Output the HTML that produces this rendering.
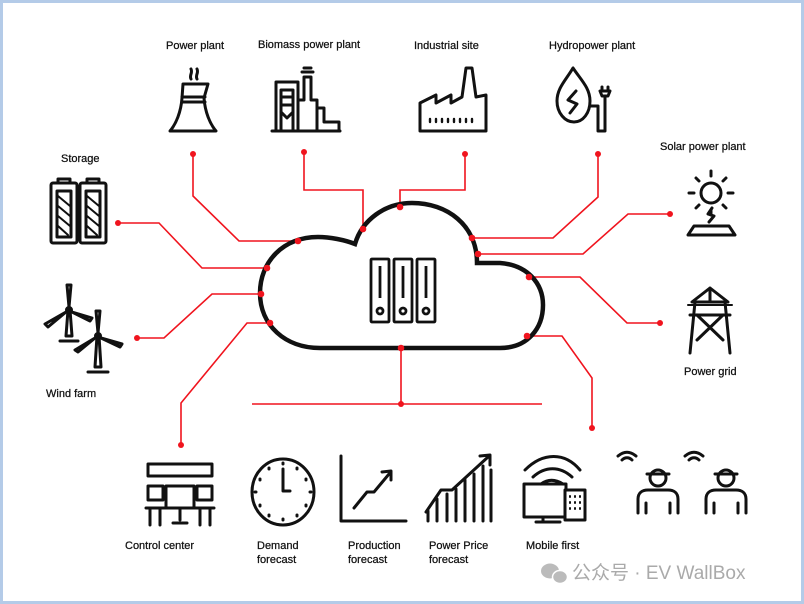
<!DOCTYPE html>
<html><head><meta charset="utf-8"><style>
html,body{margin:0;padding:0;background:#fff}
body{width:804px;height:604px;overflow:hidden}
svg{display:block}
text{font-family:"Liberation Sans","Noto Sans CJK SC",sans-serif;font-size:11px;fill:#111;stroke:#111;stroke-width:0.25}
</style></head><body>
<svg width="804" height="604" viewBox="0 0 804 604" xmlns="http://www.w3.org/2000/svg">
<rect x="0" y="0" width="804" height="604" fill="#fff"/>
<rect x="1.5" y="1.5" width="801" height="601" fill="none" stroke="#b4cbe8" stroke-width="3"/>

<g stroke="#f0141e" stroke-width="1.6" fill="none">
<polyline points="193,154 193,196 239,241 298,241"/>
<polyline points="304,152 304,190 363,190 363,229"/>
<polyline points="465,154 465,190 400,190 400,207"/>
<polyline points="598,154 598,197 553,238 472,238"/>
<polyline points="670,214 628,214 583,254 478,254"/>
<polyline points="660,323 627,323 580,277 529,277"/>
<polyline points="592,428 592,378 562,336 527,336"/>
<polyline points="401,348 401,404"/>
<line x1="252" y1="404" x2="542" y2="404"/>
<polyline points="181,445 181,403 247,323 270,323"/>
<polyline points="137,338 164,338 212,294 261,294"/>
<polyline points="118,223 159,223 202,268 267,268"/>
</g>

<path d="M320 348 L500 348 C528 348 543 328 543 305 C543 283 527 265 500 263 L477 263 C477 225 447 203 412 203 C385 203 362 220 355 244 C345 240 330 237 318 237 C283 237 260 262 260 293 C260 325 285 348 320 348 Z" fill="none" stroke="#111" stroke-width="4.5"/>

<g fill="#f0141e">
<circle cx="193" cy="154" r="3"/><circle cx="298" cy="241" r="3.3"/>
<circle cx="304" cy="152" r="3"/><circle cx="363" cy="229" r="3.3"/>
<circle cx="465" cy="154" r="3"/><circle cx="400" cy="207" r="3.3"/>
<circle cx="598" cy="154" r="3"/><circle cx="472" cy="238" r="3.3"/>
<circle cx="670" cy="214" r="3"/><circle cx="478" cy="254" r="3.3"/>
<circle cx="660" cy="323" r="3"/><circle cx="529" cy="277" r="3.3"/>
<circle cx="592" cy="428" r="3"/><circle cx="527" cy="336" r="3.3"/>
<circle cx="401" cy="348" r="3.3"/><circle cx="401" cy="404" r="3"/>
<circle cx="181" cy="445" r="3"/><circle cx="270" cy="323" r="3.3"/>
<circle cx="137" cy="338" r="3"/><circle cx="261" cy="294" r="3.3"/>
<circle cx="118" cy="223" r="3"/><circle cx="267" cy="268" r="3.3"/>
</g>

<g stroke="#111" stroke-width="2.8" fill="none">
<rect x="371" y="259" width="18" height="63" rx="1"/>
<rect x="394" y="259" width="18" height="63" rx="1"/>
<rect x="417" y="259" width="18" height="63" rx="1"/>
<line x1="380" y1="266" x2="380" y2="298"/><line x1="403" y1="266" x2="403" y2="298"/><line x1="426" y1="266" x2="426" y2="298"/>
<circle cx="380" cy="311" r="3"/><circle cx="403" cy="311" r="3"/><circle cx="426" cy="311" r="3"/>
</g>

<text x="166" y="49">Power plant</text>
<text x="258" y="48">Biomass power plant</text>
<text x="414" y="49">Industrial site</text>
<text x="549" y="49">Hydropower plant</text>
<text x="61" y="162">Storage</text>
<text x="660" y="150">Solar power plant</text>
<text x="46" y="397">Wind farm</text>
<text x="684" y="375">Power grid</text>
<text x="125" y="549">Control center</text>
<text x="257" y="549">Demand</text><text x="257" y="563">forecast</text>
<text x="348" y="549">Production</text><text x="348" y="563">forecast</text>
<text x="429" y="549">Power Price</text><text x="429" y="563">forecast</text>
<text x="526" y="549">Mobile first</text>
<text x="572" y="579" style="font-size:19px;fill:#aaa;stroke:none">公众号 · EV WallBox</text>
<g fill="#bbb"><ellipse cx="550" cy="571" rx="9" ry="7.5"/><ellipse cx="560" cy="577" rx="7.5" ry="6.5" stroke="#fff" stroke-width="1.5"/></g>

<g stroke="#111" stroke-width="3" fill="none" stroke-linejoin="round" stroke-linecap="round">
<path d="M183 84 L208 84 L204 98 C205 112 210 124 216 131 L170 131 C176 124 181 112 182 98 Z"/>
<line x1="182" y1="97" x2="205" y2="97"/><line x1="182" y1="102" x2="205" y2="102"/>
<path d="M191 79 C189 75 193 73 191 69 M197 79 C195 75 199 73 197 69"/>
<path d="M276 131 L276 82 L298 82 L298 131 Z M281 131 L281 90 L293 90 L293 131 M281 97 L293 97 M281 105 L293 105 M281 112 L287 118 L293 112"/>
<path d="M298 131 L298 100 L304 100 L304 77 L311 77 L311 100 L317 100 L317 108 L324 108 L324 122 L339 122 L339 131 Z M317 108 L317 131"/>
<path d="M302 72 L313 72 M304 68 L311 68"/>
<line x1="272" y1="131" x2="340" y2="131"/>
<path d="M420 131 L420 103 L436 95 L436 103 L451 95 L451 103 L462 97 L466 68 L472 68 L476 97 L486 95 L486 131 Z"/>
<path d="M430 119 L430 122 M436 119 L436 122 M442 119 L442 122 M448 119 L448 122 M454 119 L454 122 M460 119 L460 122 M466 119 L466 122 M472 119 L472 122" stroke-width="2.4"/>
<path d="M573 68 C566 80 557 88 557 101 C557 113 565 122 574 122 C583 122 590 113 590 101 C590 88 581 80 573 68 Z"/>
<path d="M576 91 L568 100 L577 104 L570 113"/>
<path d="M590 106 L598 106 L598 131 L605 131 L605 96 M600 91 L610 91 L608 96 L602 96 Z M602 87 L602 91 M608 87 L608 91"/>
<rect x="51" y="183" width="26" height="60" rx="2"/><rect x="80" y="183" width="26" height="60" rx="2"/>
<path d="M58 183 L58 179 L70 179 L70 183 M87 183 L87 179 L99 179 L99 183"/>
<rect x="57" y="191" width="14" height="46"/><rect x="86" y="191" width="14" height="46"/>
<path d="M58 196 L70 206 M58 206 L70 216 M58 216 L70 226 M58 226 L68 235 M87 196 L99 206 M87 206 L99 216 M87 216 L99 226 M87 226 L97 235" stroke-width="2"/>
<path d="M68 310 L66 336 L72 336 L70 310 M60 341 L78 341"/><circle cx="69" cy="310" r="2.5"/>
<path d="M69 307 L67 285 L71 285 Z M66 312 L45 324 L48 327 Z M72 312 L92 318 L90 321 Z"/>
<path d="M97 336 L95 367 L101 367 L99 336 M88 372 L108 372"/><circle cx="98" cy="336" r="2.5"/>
<path d="M98 333 L96 311 L100 311 Z M95 338 L75 350 L78 352 Z M101 338 L122 344 L120 347 Z"/>
<circle cx="711" cy="193" r="10"/>
<path d="M711 176 L711 171 M711 210 L711 215 M694 193 L689 193 M728 193 L733 193 M699 181 L696 178 M723 181 L726 178 M699 205 L696 208 M723 205 L726 208"/>
<path d="M712 208 L708 214 L714 216 L709 222"/>
<path d="M694 226 L729 226 L735 235 L688 235 Z"/>
<path d="M710 288 L692 302 L728 302 Z M690 315 L730 315 M695 302 L690 353 M725 302 L730 353 M697 315 L723 340 M723 315 L697 340 M710 288 L710 302"/>
<path d="M688 305 L732 305" stroke-width="2"/>
<rect x="148" y="464" width="64" height="12"/>
<rect x="148" y="486" width="15" height="14"/><rect x="197" y="486" width="15" height="14"/>
<rect x="166" y="486" width="28" height="22"/>
<path d="M146 508 L214 508 M150 508 L150 525 M210 508 L210 525 M160 508 L160 525 M200 508 L200 525 M180 508 L180 520 M173 523 L187 523"/>
<ellipse cx="283" cy="492" rx="31" ry="33"/>
<path d="M283 469 L283 491 L290 491"/>
<g stroke-width="3"><path d="M283 463 L283 464 M283 519 L283 520 M255 492 L256 492 M310 492 L311 492 M269 468 L269 469 M297 468 L297 469 M269 515 L269 516 M297 515 L297 516 M260 479 L260 480 M306 479 L306 480 M260 505 L260 506 M306 505 L306 506"/></g>
<path d="M341 456 L341 521 L406 521"/>
<path d="M354 508 L367 492 L374 492 L389 474 M382 472 L391 471 L391 480"/>
<path d="M426 512 L441 490 L452 490 L488 457 M480 456 L490 455 L490 465"/>
<path d="M428 521 L428 511 M437 521 L437 499 M447 521 L447 494 M456 521 L456 489 M465 521 L465 480 M474 521 L474 474 M483 521 L483 466 M491 521 L491 470"/>
<path d="M525 470 C543 452 565 452 580 470 M533 477 C545 466 560 466 572 477 M541 484 C548 479 555 479 563 484"/>
<rect x="524" y="484" width="42" height="33"/>
<path d="M543 517 L543 521 M536 522 L560 522"/>
<rect x="565" y="490" width="20" height="30" fill="#fff"/>
<path d="M570 496 L570 497 M575 496 L575 497 M580 496 L580 497 M570 502 L570 503 M575 502 L575 503 M580 502 L580 503 M570 508 L570 509 M575 508 L575 509 M580 508 L580 509" stroke-width="2"/>
<path d="M618 456 C624 451 630 451 636 456 M622 460 C625 457 629 457 632 460"/>
<path d="M685 456 C691 451 697 451 703 456 M689 460 C692 457 696 457 699 460"/>
<circle cx="658" cy="478" r="8"/><path d="M647 474 L669 474"/>
<path d="M638 513 L638 499 C638 493 642 490 648 490 L668 490 C674 490 678 493 678 499 L678 513 M646 513 L646 503 M670 513 L670 503"/>
<circle cx="726" cy="478" r="8"/><path d="M715 474 L737 474"/>
<path d="M706 513 L706 499 C706 493 710 490 716 490 L736 490 C742 490 746 493 746 499 L746 513 M714 513 L714 503 M738 513 L738 503"/>
</g>
</svg>
</body></html>
